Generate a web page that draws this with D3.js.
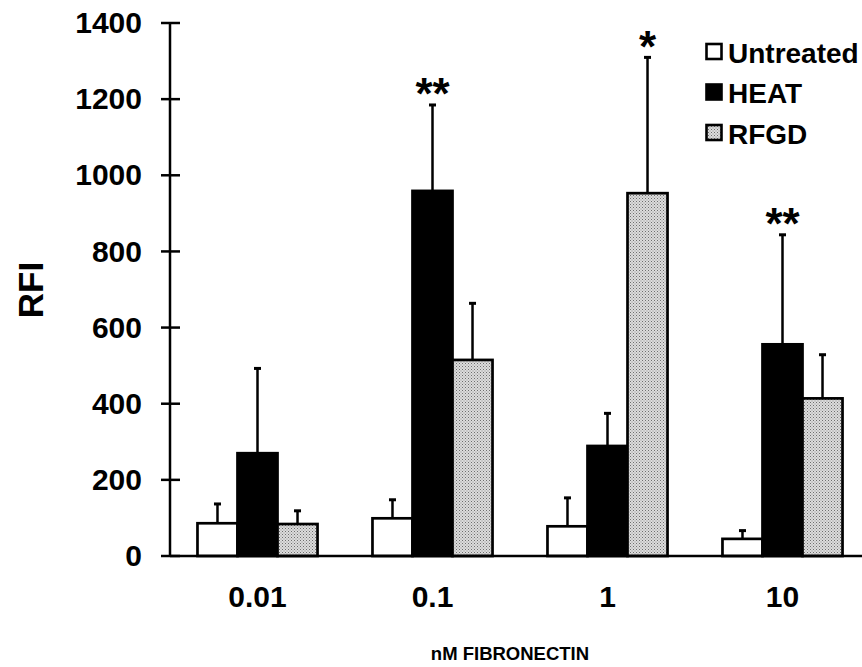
<!DOCTYPE html>
<html>
<head>
<meta charset="utf-8">
<script src="https://cdn.jsdelivr.net/npm/d3@7"></script>
<style>
  body { margin: 0; background: #fff; }
  svg { display: block; }
  text { font-family: "Liberation Sans", Arial, sans-serif; font-weight: bold; fill: #000; }
</style>
</head>
<body>
<svg id="chart" width="862" height="667"></svg>
<script>
const categories = ["0.01", "0.1", "1", "10"];
const seriesNames = ["Untreated", "HEAT", "RFGD"];
const untreated = [86, 99, 78, 45];
const untreatedErr = [52, 50, 76, 23];
const heat = [270, 959, 289, 556];
const heatErr = [224, 227, 87, 289];
const rfgd = [84, 515, 953, 414];
const rfgdErr = [36, 150, 358, 116];
const significance = [
  { cat: "0.1", series: "HEAT", label: "**" },
  { cat: "1", series: "RFGD", label: "*" },
  { cat: "10", series: "HEAT", label: "**" }
];
const yTicks = [0, 200, 400, 600, 800, 1000, 1200, 1400];

const values = { Untreated: untreated, HEAT: heat, RFGD: rfgd };
const errors = { Untreated: untreatedErr, HEAT: heatErr, RFGD: rfgdErr };

const svg = d3.select("#chart");

const defs = svg.append("defs");
const pat = defs.append("pattern")
  .attr("id", "dots").attr("patternUnits", "userSpaceOnUse")
  .attr("width", 3).attr("height", 3);
pat.append("rect").attr("width", 3).attr("height", 3).attr("fill", "#dcdcdc");
pat.append("rect").attr("x", 0).attr("y", 0).attr("width", 1).attr("height", 1).attr("fill", "#6e6e6e");
pat.append("rect").attr("x", 1.5).attr("y", 1.5).attr("width", 1).attr("height", 1).attr("fill", "#8c8c8c");

const fills = { Untreated: "#fff", HEAT: "#000", RFGD: "url(#dots)" };

const x0 = d3.scaleBand().domain(categories).range([170, 870]).paddingInner(0.314).paddingOuter(0.157);
const x1 = d3.scaleBand().domain(seriesNames).range([0, x0.bandwidth()]).padding(0);
const y = d3.scaleLinear().domain([0, 1400]).range([556, 23]);

// y axis
const yAxis = d3.axisLeft(y).tickValues(yTicks).tickFormat(d3.format("d")).tickSize(0).tickPadding(28);
const gy = svg.append("g").attr("transform", "translate(170,0)").call(yAxis);
gy.select(".domain").remove();
gy.selectAll("text").style("font-size", "30px").style("font-family", "Liberation Sans, Arial, sans-serif").style("font-weight", "bold");
svg.append("line").attr("x1", 170).attr("x2", 170).attr("y1", y(1400)).attr("y2", y(0))
  .attr("stroke", "#000").attr("stroke-width", 2.5);
svg.selectAll(".ytick").data(yTicks).enter().append("line")
  .attr("x1", 161).attr("x2", 180)
  .attr("y1", d => y(d)).attr("y2", d => y(d))
  .attr("stroke", "#000").attr("stroke-width", 2.5);

// bars
const rows = [];
categories.forEach((c, i) => seriesNames.forEach(s => rows.push({ cat: c, s, v: values[s][i], e: errors[s][i] })));

const g = svg.append("g");
g.selectAll(".err").data(rows).enter().append("line")
  .attr("x1", d => x0(d.cat) + x1(d.s) + x1.bandwidth() / 2)
  .attr("x2", d => x0(d.cat) + x1(d.s) + x1.bandwidth() / 2)
  .attr("y1", d => y(d.v)).attr("y2", d => y(d.v + d.e))
  .attr("stroke", "#000").attr("stroke-width", 2.5);
g.selectAll(".cap").data(rows).enter().append("rect")
  .attr("x", d => x0(d.cat) + x1(d.s) + x1.bandwidth() / 2 - 3.5)
  .attr("y", d => y(d.v + d.e) - 1)
  .attr("width", 7).attr("height", 3).attr("fill", "#000");

g.selectAll(".bar").data(rows).enter().append("rect")
  .attr("x", d => x0(d.cat) + x1(d.s))
  .attr("y", d => y(d.v))
  .attr("width", x1.bandwidth())
  .attr("height", d => y(0) - y(d.v))
  .attr("fill", d => fills[d.s])
  .attr("stroke", "#000").attr("stroke-width", 2.7);

// x axis line
svg.append("line").attr("x1", 170).attr("x2", 862).attr("y1", y(0)).attr("y2", y(0))
  .attr("stroke", "#000").attr("stroke-width", 2.5);

// x tick labels
const xAxis = d3.axisBottom(x0).tickSize(0).tickPadding(30);
const gx = svg.append("g").attr("transform", `translate(0,${y(0)})`).call(xAxis);
gx.select(".domain").remove();
gx.selectAll("text").style("font-size", "30px").style("font-family", "Liberation Sans, Arial, sans-serif").style("font-weight", "bold");

// significance marks
significance.forEach(sig => {
  const i = categories.indexOf(sig.cat);
  const v = values[sig.series][i] + errors[sig.series][i];
  svg.append("text")
    .attr("x", x0(sig.cat) + x1(sig.series) + x1.bandwidth() / 2)
    .attr("y", y(v) + 5)
    .attr("text-anchor", "middle")
    .style("font-size", "44px")
    .text(sig.label);
});

// axis titles
svg.append("text").attr("transform", "translate(43,290) rotate(-90)")
  .attr("text-anchor", "middle").style("font-size", "35px").text("RFI");
svg.append("text").attr("x", 510).attr("y", 660)
  .attr("text-anchor", "middle").style("font-size", "18.5px").text("nM FIBRONECTIN");

// legend
const lg = svg.append("g").attr("transform", "translate(705,42)");
seriesNames.forEach((s, i) => {
  const gi = lg.append("g").attr("transform", `translate(0,${i * 40.5})`);
  gi.append("rect").attr("x", 1.5).attr("y", 2).attr("width", 15).attr("height", 15)
    .attr("fill", fills[s]).attr("stroke", "#000").attr("stroke-width", 2.6);
  gi.append("text").attr("x", 23).attr("y", 20.5).style("font-size", "28px").text(s);
});
</script>
</body>
</html>
